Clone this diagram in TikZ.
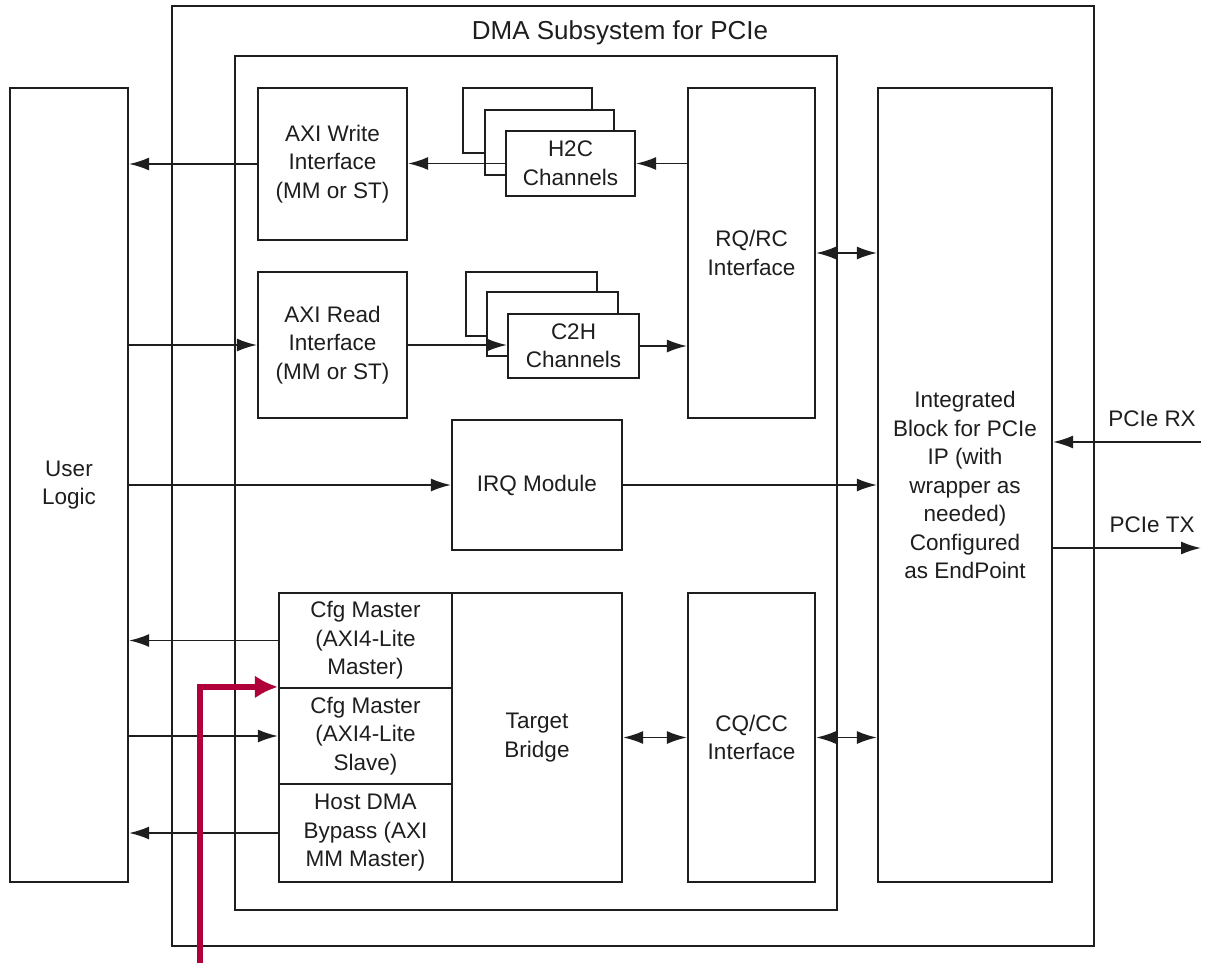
\documentclass[tikz,border=0pt]{standalone}
\usepackage{fontspec}
\setmainfont{Liberation Sans}
\usetikzlibrary{arrows.meta,calc}
\definecolor{crim}{HTML}{B0003A}
\definecolor{ln}{HTML}{1E1E1E}
\begin{document}
\begin{tikzpicture}[x=1pt,y=-1pt,
  every node/.style={font=\fontsize{22.5}{28.5}\selectfont, text=ln},
  blk/.style={draw=ln, line width=2.2pt, fill=white, inner sep=0pt, align=center},
  arr/.style={draw=ln, line width=1.8pt, -{Latex[length=20pt,width=13pt]}},
  darr/.style={draw=ln, line width=1.8pt, {Latex[length=20pt,width=13pt]}-{Latex[length=20pt,width=13pt]}},
  redarr/.style={draw=crim, line width=6pt, -{Latex[length=23pt,width=23pt]}}]
\useasboundingbox (0,0) rectangle (1206,963);
% outer & inner frames
\node[blk, minimum width=922pt, minimum height=940pt] (outer) at (633,476) {};
\node[font=\fontsize{26}{30}\selectfont] (title) at (620,33) {DMA Subsystem for PCIe};
\node[blk, minimum width=602pt, minimum height=854pt] (inner) at (536,483) {};
% side blocks
\node[blk, minimum width=118pt, minimum height=794pt] (user) at (69,485) {User\\Logic};
\node[blk, minimum width=174pt, minimum height=794pt] (integ) at (965,485)
  {Integrated\\Block for PCIe\\IP (with\\wrapper as\\needed)\\Configured\\as EndPoint};
% AXI interfaces
\node[blk, minimum width=149pt, minimum height=152pt] (axiw) at (332.5,164) {AXI Write\\Interface\\(MM or ST)};
\node[blk, minimum width=149pt, minimum height=146pt] (axir) at (332.5,345) {AXI Read\\Interface\\(MM or ST)};
% H2C stack
\node[blk, minimum width=129pt, minimum height=65pt] (h2cb) at (527.5,120.5) {};
\node[blk, minimum width=129pt, minimum height=65pt] (h2cm) at (549.5,142.5) {};
\node[blk, minimum width=129pt, minimum height=65pt] (h2c) at (570.5,163.5) {H2C\\Channels};
% C2H stack
\node[blk, minimum width=131pt, minimum height=64pt] (c2hb) at (531.5,304) {};
\node[blk, minimum width=131pt, minimum height=64pt] (c2hm) at (552.5,324) {};
\node[blk, minimum width=131pt, minimum height=64pt] (c2h) at (573.5,346) {C2H\\Channels};
% RQ/RC, IRQ, CQ/CC
\node[blk, minimum width=127pt, minimum height=330pt] (rqrc) at (751.5,253) {RQ/RC\\Interface};
\node[blk, minimum width=170pt, minimum height=130pt] (irq) at (537,485) {IRQ Module};
\node[blk, minimum width=127pt, minimum height=289pt] (cqcc) at (751.5,737.5) {CQ/CC\\Interface};
% target bridge group
\node[blk, minimum width=170pt, minimum height=289pt] (tb) at (537,737.5) {Target\\Bridge};
\node[blk, minimum width=173pt, minimum height=95pt] (cfgm) at (365.5,640.5) {Cfg Master\\(AXI4-Lite\\Master)};
\node[blk, minimum width=173pt, minimum height=96pt] (cfgs) at (365.5,736) {Cfg Master\\(AXI4-Lite\\Slave)};
\node[blk, minimum width=173pt, minimum height=98pt] (host) at (365.5,833) {Host DMA\\Bypass (AXI\\MM Master)};
% connectors upper
\draw[arr] (rqrc.west |- h2c.east) -- (h2c.east);
\draw[arr] (h2c.west) -- (axiw.east |- h2c.west);
\draw[arr] (axiw.west) -- (user.east |- axiw.west);
\draw[arr] (user.east |- axir.west) -- (axir.west);
\draw[arr] (axir.east) -- (c2h.west |- axir.east);
\draw[arr] (c2h.east) -- (rqrc.west |- c2h.east);
\draw[darr] (rqrc.east) -- (integ.west |- rqrc.east);
\draw[arr] (user.east |- irq.west) -- (irq.west);
\draw[arr] (irq.east) -- (integ.west |- irq.east);
% connectors lower
\draw[arr] (cfgm.west) -- (user.east |- cfgm.west);
\draw[arr] (user.east |- cfgs.west) -- (cfgs.west);
\draw[arr] (host.west) -- (user.east |- host.west);
\draw[darr] (tb.east) -- (cqcc.west);
\draw[darr] (cqcc.east) -- (integ.west |- cqcc.east);
% PCIe
\coordinate (rx) at (1201,442);
\coordinate (tx) at (1201,548);
\draw[arr] (rx) -- (integ.east |- rx);
\draw[arr] (integ.east |- tx) -- (tx);
\node (rxl) at (1152,419) {PCIe RX};
\node (txl) at (1152,525) {PCIe TX};
% red arrow
\coordinate (redstart) at (200,963);
\draw[redarr] (redstart) |- (cfgs.north west);
\end{tikzpicture}
\end{document}
